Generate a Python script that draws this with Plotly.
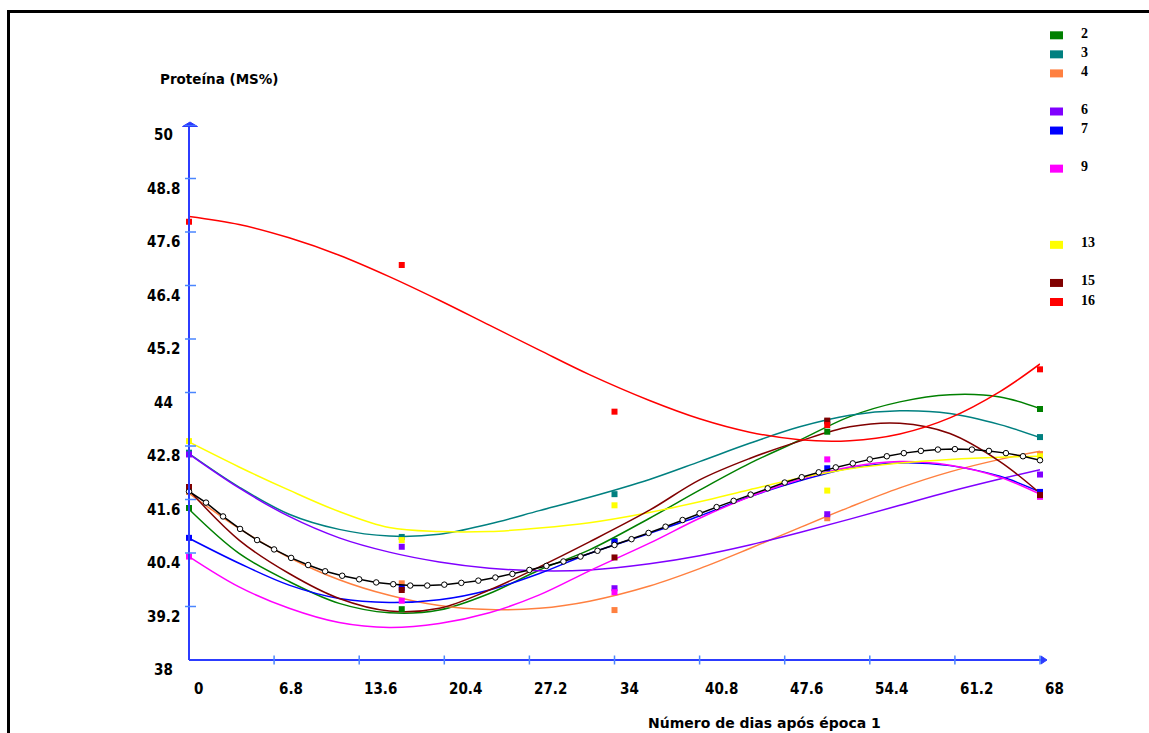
import plotly.graph_objects as go

# ---------------- data ----------------
days = [0, 17, 34, 51, 68]
series_names = ["2", "3", "4", "6", "7", "9", "13", "15", "16"]

pts_2 = [41.41, 39.14, 40.67, 43.12, 43.63]
pts_3 = [42.65, 40.76, 41.72, 43.35, 43.00]
pts_4 = [41.77, 39.72, 39.12, 41.18, 42.62]
pts_6 = [42.61, 40.54, 39.61, 41.27, 42.16]
pts_7 = [40.74, 39.62, 40.65, 42.30, 41.77]
pts_9 = [40.32, 39.33, 39.52, 42.50, 41.66]
pts_13 = [42.91, 40.69, 41.47, 41.80, 42.57]
pts_15 = [41.88, 39.57, 40.30, 43.37, 41.70]
pts_16 = [47.83, 46.86, 43.57, 43.27, 44.52]

fit_x = [0, 4, 8, 12, 16, 20, 24, 28, 32, 36.8, 40.8, 44.8, 48.8, 52.8, 56.8, 60.8, 64.8, 68]
fit_2 = [41.38, 40.39, 39.76, 39.27, 39.06, 39.12, 39.49, 40.02, 40.47, 41.18, 41.81, 42.41, 42.93, 43.46, 43.79, 43.95, 43.90, 43.64]
fit_3 = [42.63, 41.88, 41.27, 40.93, 40.78, 40.82, 41.05, 41.35, 41.65, 42.05, 42.45, 42.86, 43.23, 43.49, 43.59, 43.53, 43.28, 42.99]
fit_4 = [41.74, 40.95, 40.30, 39.80, 39.45, 39.22, 39.13, 39.16, 39.32, 39.66, 40.05, 40.50, 40.97, 41.43, 41.86, 42.22, 42.50, 42.68]
fit_6 = [42.62, 41.86, 41.22, 40.74, 40.42, 40.20, 40.06, 40.00, 40.02, 40.16, 40.34, 40.58, 40.86, 41.16, 41.47, 41.78, 42.06, 42.27]
fit_7 = [40.73, 40.17, 39.68, 39.38, 39.29, 39.35, 39.57, 39.94, 40.39, 40.84, 41.23, 41.66, 42.02, 42.30, 42.42, 42.36, 42.12, 41.77]
fit_9 = [40.32, 39.64, 39.16, 38.84, 38.73, 38.82, 39.06, 39.46, 40.00, 40.62, 41.18, 41.66, 42.05, 42.33, 42.45, 42.37, 42.10, 41.72]
fit_13 = [42.89, 42.33, 41.81, 41.33, 40.97, 40.88, 40.88, 40.96, 41.08, 41.31, 41.55, 41.82, 42.08, 42.29, 42.42, 42.50, 42.55, 42.57]
fit_15 = [41.81, 40.69, 39.94, 39.38, 39.10, 39.16, 39.57, 40.09, 40.65, 41.36, 42.04, 42.52, 42.91, 43.23, 43.31, 43.08, 42.45, 41.74]
fit_16 = [47.95, 47.77, 47.47, 47.08, 46.60, 46.07, 45.51, 44.95, 44.40, 43.82, 43.41, 43.11, 42.94, 42.92, 43.07, 43.43, 44.02, 44.64]

mean_x = [0, 1.36, 2.72, 4.08, 5.44, 6.8, 8.16, 9.52, 10.88, 12.24, 13.6, 14.96, 16.32,
          17.68, 19.04, 20.4, 21.76, 23.12, 24.48, 25.84, 27.2, 28.56, 29.92, 31.28, 32.64,
          34, 35.36, 36.72, 38.08, 39.44, 40.8, 42.16, 43.52, 44.88, 46.24, 47.6, 48.96,
          50.32, 51.68, 53.04, 54.4, 55.76, 57.12, 58.48, 59.84, 61.2, 62.56, 63.92, 65.28,
          66.64, 68]
mean_y = [41.78, 41.53, 41.22, 40.94, 40.69, 40.48, 40.29, 40.13, 39.99, 39.89, 39.81, 39.74,
          39.70, 39.67, 39.67, 39.69, 39.73, 39.78, 39.85, 39.93, 40.02, 40.11, 40.21, 40.32,
          40.45, 40.58, 40.71, 40.85, 40.99, 41.14, 41.29, 41.43, 41.57, 41.71, 41.85, 41.98,
          42.10, 42.21, 42.32, 42.41, 42.50, 42.57, 42.64, 42.69, 42.72, 42.73, 42.72, 42.69,
          42.64, 42.57, 42.48]

x_ticks = [0, 6.8, 13.6, 20.4, 27.2, 34, 40.8, 47.6, 54.4, 61.2, 68]
x_tick_labels = ["0", "6.8", "13.6", "20.4", "27.2", "34", "40.8", "47.6", "54.4", "61.2", "68"]
y_ticks = [38, 39.2, 40.4, 41.6, 42.8, 44, 45.2, 46.4, 47.6, 48.8, 50]
y_tick_labels = ["38", "39.2", "40.4", "41.6", "42.8", "44", "45.2", "46.4", "47.6", "48.8", "50"]

# ---------------- style ----------------
colors = {"2": "#008000", "3": "#008080", "4": "#FF8040", "6": "#8000FF", "7": "#0000FF",
          "9": "#FF00FF", "13": "#FFFF00", "15": "#800000", "16": "#FF0000"}
points = {"2": pts_2, "3": pts_3, "4": pts_4, "6": pts_6, "7": pts_7, "9": pts_9,
          "13": pts_13, "15": pts_15, "16": pts_16}
fits = {"2": fit_2, "3": fit_3, "4": fit_4, "6": fit_6, "7": fit_7, "9": fit_9,
        "13": fit_13, "15": fit_15, "16": fit_16}

W, H = 1149, 733
PX0, PX1 = 189, 1040     # pixel x of plot area
PY1, PY0 = 125, 660      # pixel y of plot area (top, bottom)


def pxp(x):
    return (x - PX0) / (PX1 - PX0)


def pyp(y):
    return (PY0 - y) / (PY0 - PY1)


AXIS_BLUE = "#2C3CFF"
TICK_BLUE = "#4A86FF"
NUM_FONT = dict(family="Liberation Sans Narrow, Arial Narrow, DejaVu Sans Condensed, sans-serif",
                size=15, color="black")

fig = go.Figure()

for name in series_names:
    fig.add_trace(go.Scatter(x=fit_x, y=fits[name], mode="lines",
                             line=dict(color=colors[name], width=1.5, shape="spline", smoothing=1),
                             cliponaxis=False, hoverinfo="skip", showlegend=False))
for name in series_names:
    fig.add_trace(go.Scatter(x=days, y=points[name], mode="markers",
                             marker=dict(symbol="square", size=6, color=colors[name],
                                         line=dict(width=0)),
                             cliponaxis=False, showlegend=False, name=name))

fig.add_trace(go.Scatter(x=mean_x, y=mean_y, mode="lines+markers",
                         line=dict(color="black", width=1.5),
                         marker=dict(symbol="circle", size=5.5, color="white",
                                     line=dict(color="black", width=1)),
                         cliponaxis=False, showlegend=False))

shapes = []
annotations = []

# frame
shapes.append(dict(type="rect", xref="paper", yref="paper",
                   x0=pxp(8.5), y0=pyp(11.5), x1=pxp(1300), y1=pyp(900),
                   line=dict(color="black", width=3), layer="below"))

# axes lines
shapes.append(dict(type="line", xref="paper", yref="paper", x0=0, x1=0,
                   y0=0, y1=pyp(124), line=dict(color=AXIS_BLUE, width=2)))
shapes.append(dict(type="line", xref="paper", yref="paper", x0=0, x1=pxp(1044),
                   y0=0, y1=0, line=dict(color=AXIS_BLUE, width=2)))
# arrow heads
shapes.append(dict(type="path", xref="paper", yref="paper",
                   path="M {a},{b} L {c},{b} L {d},{e} Z".format(
                       a=pxp(182.5), b=pyp(126.5), c=pxp(197.5), d=pxp(190), e=pyp(122)),
                   fillcolor=AXIS_BLUE, line=dict(color=AXIS_BLUE, width=1)))
shapes.append(dict(type="path", xref="paper", yref="paper",
                   path="M {a},{b} L {a},{c} L {d},{e} Z".format(
                       a=pxp(1041), b=pyp(656), c=pyp(664), d=pxp(1047), e=pyp(660)),
                   fillcolor=AXIS_BLUE, line=dict(color=AXIS_BLUE, width=1)))

# tick crosses
for t in y_ticks[1:]:
    shapes.append(dict(type="line", xref="paper", yref="y", x0=pxp(185), x1=pxp(196),
                       y0=t, y1=t, line=dict(color=TICK_BLUE, width=1.5)))
for t in x_ticks[1:-1]:
    shapes.append(dict(type="line", xref="x", yref="paper", x0=t, x1=t,
                       y0=pyp(664.5), y1=pyp(655.5), line=dict(color=TICK_BLUE, width=1.5)))
shapes.append(dict(type="line", xref="paper", yref="paper", x0=1, x1=1,
                   y0=pyp(664.5), y1=pyp(655.5), line=dict(color=TICK_BLUE, width=1.5)))

# tick labels
for t, lab in zip(y_ticks, y_tick_labels):
    annotations.append(dict(xref="paper", yref="y", x=pxp(163), y=t, yshift=-10,
                            text="<b>%s</b>" % lab, showarrow=False, xanchor="center",
                            yanchor="middle", font=NUM_FONT))
for t, lab in zip(x_ticks, x_tick_labels):
    annotations.append(dict(xref="x", yref="paper", x=t, y=pyp(689), xshift=3,
                            text="<b>%s</b>" % lab, showarrow=False, xanchor="left",
                            yanchor="middle", font=NUM_FONT))

# titles
annotations.append(dict(xref="paper", yref="paper", x=pxp(158), y=pyp(79),
                        text="<b>Proteína (MS%)</b>", showarrow=False, xanchor="left",
                        yanchor="middle",
                        font=dict(family="DejaVu Sans, sans-serif", size=13.5, color="black")))
annotations.append(dict(xref="paper", yref="paper", x=pxp(764), y=pyp(723),
                        text="<b>Número de dias após época 1</b>", showarrow=False,
                        xanchor="center", yanchor="middle",
                        font=dict(family="DejaVu Sans, sans-serif", size=14, color="black")))

# legend (row position follows the series number)
for name in series_names:
    n = int(name)
    yc = 33.3 + 19.05 * (n - 2)
    shapes.append(dict(type="rect", xref="paper", yref="paper",
                       x0=pxp(1050), x1=pxp(1063), y0=pyp(yc + 6), y1=pyp(yc - 2),
                       fillcolor=colors[name], line=dict(width=0)))
    annotations.append(dict(xref="paper", yref="paper", x=pxp(1079), y=pyp(yc),
                            text="<b>%s</b>" % name, showarrow=False, xanchor="left",
                            yanchor="middle",
                            font=dict(family="Liberation Serif, serif", size=14, color="black")))

fig.update_layout(
    width=W, height=H,
    margin=dict(l=PX0, r=W - PX1, t=PY1, b=H - PY0, pad=0),
    paper_bgcolor="white", plot_bgcolor="white",
    xaxis=dict(range=[0, 68], showgrid=False, zeroline=False, showline=False,
               showticklabels=False, ticks="", fixedrange=True),
    yaxis=dict(range=[38, 50], showgrid=False, zeroline=False, showline=False,
               showticklabels=False, ticks="", fixedrange=True),
    shapes=shapes, annotations=annotations, showlegend=False,
)

fig.write_html("out.html")
